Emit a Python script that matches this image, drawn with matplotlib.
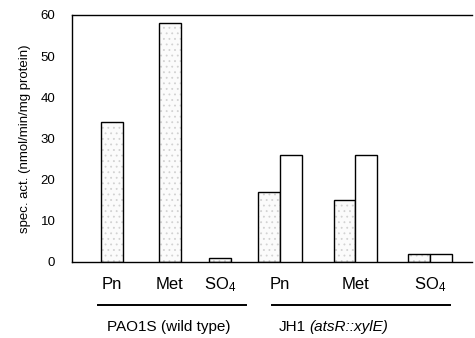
import numpy as np
import matplotlib.pyplot as plt

plt.rcParams['font.family'] = ['Liberation Sans', 'DejaVu Sans']
plt.rcParams['mathtext.fontset'] = 'custom'
plt.rcParams['mathtext.rm'] = 'Liberation Sans'
plt.rcParams['mathtext.it'] = 'Liberation Sans:italic'
plt.rcParams['hatch.linewidth'] = 0.6

categories = ['Pn', 'Met', r'SO$_\mathregular{4}$']
wild_type = [34, 58, 1]
mutant_stippled = [17, 15, 2]
mutant_open = [26, 26, 2]
y_ticks = [0, 10, 20, 30, 40, 50, 60]

# layout in bar-width units (one unit = one bar)
wt_pos = np.array([1.82, 4.45, 6.73])
mut_pos = np.array([9.45, 12.9, 16.3])
w = 1.0

fig = plt.figure(figsize=(4.75, 3.38), dpi=100)
ax = fig.add_axes([0.1516, 0.2249, 0.842, 0.7308])


def stipple_bars(x, h):
    ax.bar(x, h, w, color='#fbfbfb', edgecolor='#d2d2d2', hatch='...', linewidth=0, zorder=2)
    ax.bar(x, h, w, fill=False, edgecolor='black', linewidth=1.0, zorder=3)


stipple_bars(wt_pos, wild_type)
stipple_bars(mut_pos - w / 2, mutant_stippled)
ax.bar(mut_pos + w / 2, mutant_open, w, color='white', edgecolor='black', linewidth=1.0, zorder=3)

ax.set_xlim(0, 18.2)
ax.set_ylim(0, 60)
ax.set_yticks(y_ticks)
ax.set_xticks([])
ax.tick_params(axis='y', length=0, pad=12, labelsize=9.5)
ax.spines['right'].set_visible(False)
for s in ['left', 'top', 'bottom']:
    ax.spines[s].set_linewidth(1.0)
ax.set_ylabel('spec. act. (nmol/min/mg protein)', fontsize=9.5, labelpad=7)

tr = ax.get_xaxis_transform()
for x, lab in zip(wt_pos, categories):
    ax.text(x, -0.093, lab, transform=tr, ha='center', va='center', fontsize=12)
for x, lab in zip(mut_pos, categories):
    ax.text(x, -0.093, lab, transform=tr, ha='center', va='center', fontsize=12)

ax.plot([1.2, 7.9], [-0.174, -0.174], transform=tr, color='black', lw=1.4, clip_on=False)
ax.plot([9.1, 17.2], [-0.174, -0.174], transform=tr, color='black', lw=1.4, clip_on=False)

ax.text(4.4, -0.262, 'PAO1S (wild type)', transform=tr, ha='center', va='center', fontsize=11)
ax.text((306 - 72) / 22, -0.262, 'JH1', transform=tr, ha='right', va='center', fontsize=11)
ax.text((310 - 72) / 22, -0.262, '(atsR::xylE)', transform=tr, ha='left', va='center',
        fontsize=11, style='italic')

fig.savefig('out.png', dpi=100)
